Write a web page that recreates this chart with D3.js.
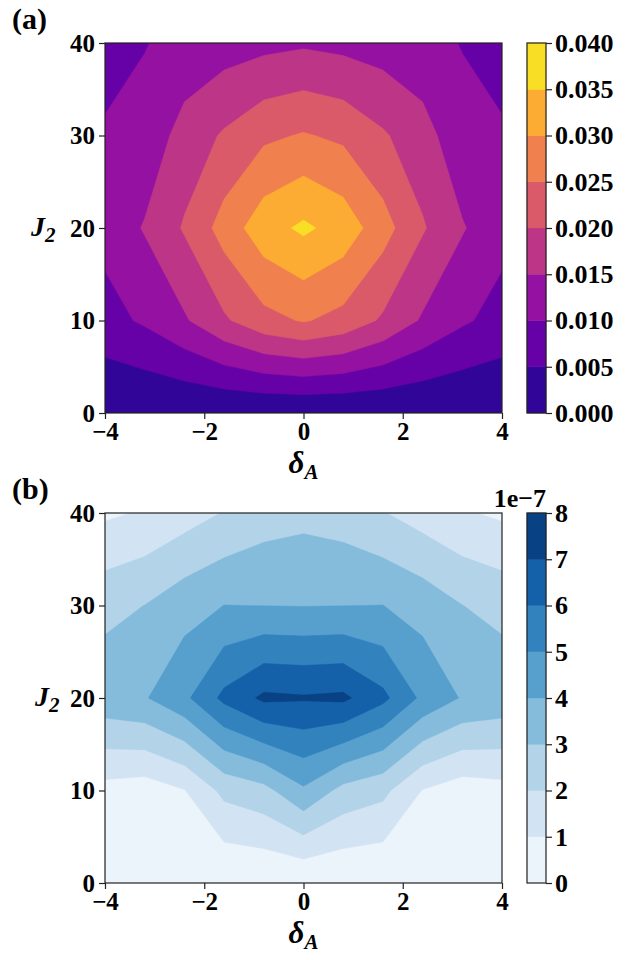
<!DOCTYPE html>
<html>
<head>
<meta charset="utf-8">
<script src="https://cdn.jsdelivr.net/npm/d3@7"></script>
<style>
  body { margin: 0; background: #fff; }
</style>
</head>
<body>
<div class="center"></div>
<script>
// grid of the computed points
const deltaA = [-4, -3.2, -2.4, -1.6, -0.8, 0, 0.8, 1.6, 2.4, 3.2, 4];
const J2s = [0, 10, 20, 30, 40];

// panel (a), one row per J2 value
const a_J0  = [0, 0, 0, 0, 0, 0, 0, 0, 0, 0, 0];
const a_J10 = [0.0083, 0.0107, 0.0144, 0.0193, 0.0234, 0.0254, 0.0234, 0.0193, 0.0144, 0.0107, 0.0083];
const a_J20 = [0.0115, 0.0154, 0.0205, 0.0270, 0.0330, 0.0359, 0.0330, 0.0270, 0.0205, 0.0154, 0.0115];
const a_J30 = [0.0106, 0.0116, 0.0170, 0.0206, 0.0240, 0.0254, 0.0240, 0.0206, 0.0170, 0.0116, 0.0106];
const a_J40 = [0.0080, 0.0098, 0.0115, 0.0127, 0.0136, 0.0143, 0.0136, 0.0127, 0.0115, 0.0098, 0.0080];
const aLevels = [0, 0.005, 0.010, 0.015, 0.020, 0.025, 0.030, 0.035, 0.040];

// panel (b), in units of 1e-7
const b_J0  = [0, 0, 0, 0, 0, 0, 0, 0, 0, 0, 0];
const b_J10 = [0.64, 0.48, 0.96, 2.26, 2.68, 3.85, 2.68, 2.26, 0.96, 0.48, 0.64];
const b_J20 = [3.65, 3.92, 4.78, 6.25, 7.20, 7.10, 7.20, 6.25, 4.78, 3.92, 3.65];
const b_J30 = [2.70, 3.01, 3.61, 4.01, 3.99, 3.97, 3.99, 4.01, 3.61, 3.01, 2.70];
const b_J40 = [0.83, 1.10, 1.55, 2.05, 2.54, 2.72, 2.54, 2.05, 1.55, 1.10, 0.83];
const bLevels = [0, 1, 2, 3, 4, 5, 6, 7, 8];

const xTicks = [-4, -2, 0, 2, 4];
const yTicks = [0, 10, 20, 30, 40];

// matplotlib "Blues" (linear between the 9 brewer colours)
const blues = d3.piecewise(d3.interpolateRgb,
  ["#f7fbff", "#deebf7", "#c6dbef", "#9ecae1", "#6baed6", "#4292c6", "#2171b5", "#08519c", "#08306b"]);

const font = "'Liberation Serif', 'Times New Roman', serif";
const W = 644, H = 960;

const svg = d3.select(".center").append("svg")
  .attr("width", W)
  .attr("height", H);

function panel(p) {
  const x0 = 105, x1 = 502;
  const xScale = d3.scaleLinear().domain([-4, 4]).range([x0, x1]);
  const yScale = d3.scaleLinear().domain([0, 40]).range([p.bottom, p.top]);

  // d3.contours puts sample i at grid coord i + 0.5
  const nx = deltaA.length, ny = J2s.length;
  const gx = d3.scaleLinear().domain([0.5, nx - 0.5]).range([deltaA[0], deltaA[nx - 1]]);
  const gy = d3.scaleLinear().domain([0.5, ny - 0.5]).range([J2s[0], J2s[ny - 1]]);

  const values = [].concat(...p.rows);
  const contours = d3.contours().size([nx, ny]).thresholds(p.levels)(values);

  const path = d3.geoPath(d3.geoTransform({
    point(x, y) { this.stream.point(xScale(gx(x)), yScale(gy(y))); }
  }));

  const nb = p.levels.length - 1;
  const vmax = p.levels[nb];
  const bandColor = i => p.cmap((p.levels[i] + p.levels[i + 1]) / 2 / vmax);

  svg.append("clipPath").attr("id", "clip" + p.id)
    .append("rect")
    .attr("x", x0).attr("y", p.top)
    .attr("width", x1 - x0).attr("height", p.bottom - p.top);

  svg.append("g")
    .attr("clip-path", `url(#clip${p.id})`)
    .selectAll("path")
    .data(contours.slice(0, nb))
    .enter().append("path")
    .attr("d", path)
    .attr("fill", (d, i) => bandColor(i))
    .attr("stroke", (d, i) => bandColor(i))
    .attr("stroke-width", 0.5);

  // frame
  svg.append("rect")
    .attr("x", x0).attr("y", p.top)
    .attr("width", x1 - x0).attr("height", p.bottom - p.top)
    .attr("fill", "none")
    .attr("stroke", "#222")
    .attr("stroke-width", 1.2);

  const xAxis = d3.axisBottom(xScale).tickValues(xTicks).tickSize(6).tickPadding(3)
    .tickFormat(d => d < 0 ? "\u2212" + Math.abs(d) : d);
  const gxA = svg.append("g").attr("transform", `translate(0,${p.bottom})`).call(xAxis);

  const yAxis = d3.axisLeft(yScale).tickValues(yTicks).tickSize(6).tickPadding(4);
  const gyA = svg.append("g").attr("transform", `translate(${x0},0)`).call(yAxis);

  [gxA, gyA].forEach(g => {
    g.select(".domain").remove();
    g.selectAll("line").attr("stroke", "#222").attr("stroke-width", 1.2);
    g.selectAll("text")
      .style("font-family", font).style("font-size", "25px").style("font-weight", "bold");
  });

  // colour bar
  const cx0 = 527, cw = 19;
  const cScale = d3.scaleLinear().domain([p.levels[0], vmax]).range([p.bottom, p.top]);
  svg.append("g").selectAll("rect")
    .data(d3.range(nb))
    .enter().append("rect")
    .attr("x", cx0)
    .attr("y", i => cScale(p.levels[i + 1]))
    .attr("width", cw)
    .attr("height", i => cScale(p.levels[i]) - cScale(p.levels[i + 1]))
    .attr("fill", i => bandColor(i))
    .attr("stroke", i => bandColor(i))
    .attr("stroke-width", 0.5);
  svg.append("rect")
    .attr("x", cx0).attr("y", p.top)
    .attr("width", cw).attr("height", p.bottom - p.top)
    .attr("fill", "none").attr("stroke", "#222").attr("stroke-width", 1.2);

  const cAxis = d3.axisRight(cScale).tickValues(p.levels).tickSize(6).tickPadding(3)
    .tickFormat(p.cfmt);
  const gc = svg.append("g").attr("transform", `translate(${cx0 + cw},0)`).call(cAxis);
  gc.select(".domain").remove();
  gc.selectAll("line").attr("stroke", "#222").attr("stroke-width", 1.2);
  gc.selectAll("text")
    .style("font-family", font).style("font-size", "26px").style("font-weight", "bold");

  if (p.offset) {
    svg.append("text")
      .text(p.offset)
      .attr("x", cx0 + cw).attr("y", p.top - 6)
      .attr("text-anchor", "end")
      .style("font-family", font).style("font-size", "26px").style("font-weight", "bold");
  }

  // panel letter
  svg.append("text")
    .text(p.letter)
    .attr("x", 12).attr("y", p.top - 14)
    .style("font-family", font).style("font-size", "30px").style("font-weight", "bold");

  // x label  delta_A
  const xl = svg.append("text")
    .attr("x", (x0 + x1) / 2).attr("y", p.bottom + 60)
    .attr("text-anchor", "middle")
    .style("font-family", font).style("font-weight", "bold").style("font-style", "italic");
  xl.append("tspan").text("\u03b4").style("font-size", "31px");
  xl.append("tspan").text("A").attr("dy", 6).style("font-size", "21px");

  // y label  J_2
  const yl = svg.append("text")
    .attr("x", p.jx).attr("y", yScale(20) + 8)
    .style("font-family", font).style("font-weight", "bold").style("font-style", "italic");
  yl.append("tspan").text("J").style("font-size", "28px");
  yl.append("tspan").text("2").attr("dy", 6).style("font-size", "21px");
}

panel({
  id: "a", letter: "(a)", top: 43, bottom: 413, jx: 31,
  rows: [a_J0, a_J10, a_J20, a_J30, a_J40],
  levels: aLevels,
  cmap: d3.interpolatePlasma,
  cfmt: d3.format(".3f")
});

panel({
  id: "b", letter: "(b)", top: 513, bottom: 883, jx: 35,
  rows: [b_J0, b_J10, b_J20, b_J30, b_J40],
  levels: bLevels,
  cmap: blues,
  cfmt: d => d,
  offset: "1e\u22127"
});
</script>
</body>
</html>
